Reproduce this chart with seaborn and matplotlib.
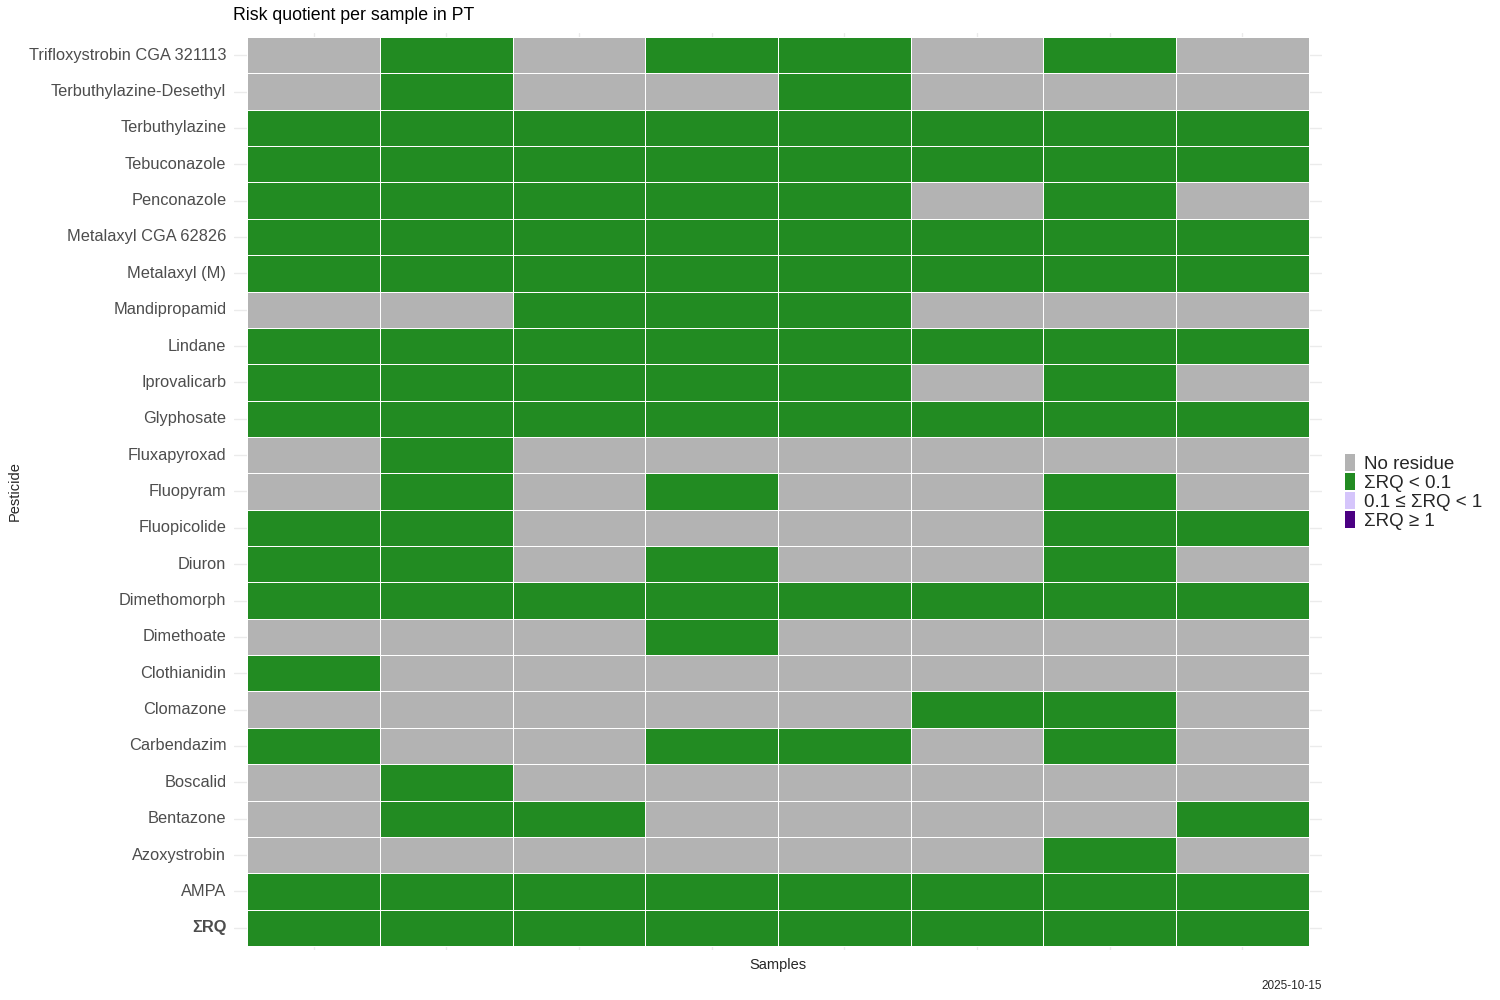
import numpy as np
import pandas as pd
import matplotlib
matplotlib.use("Agg")
import matplotlib.pyplot as plt
from matplotlib.colors import ListedColormap
from matplotlib.patches import Patch
import seaborn as sns

# Rows top to bottom, 8 samples each
# 0 = No residue, 1 = SRQ < 0.1, 2 = 0.1 <= SRQ < 1, 3 = SRQ >= 1
pesticides = [
    "Trifloxystrobin CGA 321113", "Terbuthylazine-Desethyl", "Terbuthylazine",
    "Tebuconazole", "Penconazole", "Metalaxyl CGA 62826", "Metalaxyl (M)",
    "Mandipropamid", "Lindane", "Iprovalicarb", "Glyphosate", "Fluxapyroxad",
    "Fluopyram", "Fluopicolide", "Diuron", "Dimethomorph", "Dimethoate",
    "Clothianidin", "Clomazone", "Carbendazim", "Boscalid", "Bentazone",
    "Azoxystrobin", "AMPA", "ΣRQ",
]
samples = ["S1", "S2", "S3", "S4", "S5", "S6", "S7", "S8"]
risk_class = [
    [0, 1, 0, 1, 1, 0, 1, 0],
    [0, 1, 0, 0, 1, 0, 0, 0],
    [1, 1, 1, 1, 1, 1, 1, 1],
    [1, 1, 1, 1, 1, 1, 1, 1],
    [1, 1, 1, 1, 1, 0, 1, 0],
    [1, 1, 1, 1, 1, 1, 1, 1],
    [1, 1, 1, 1, 1, 1, 1, 1],
    [0, 0, 1, 1, 1, 0, 0, 0],
    [1, 1, 1, 1, 1, 1, 1, 1],
    [1, 1, 1, 1, 1, 0, 1, 0],
    [1, 1, 1, 1, 1, 1, 1, 1],
    [0, 1, 0, 0, 0, 0, 0, 0],
    [0, 1, 0, 1, 0, 0, 1, 0],
    [1, 1, 0, 0, 0, 0, 1, 1],
    [1, 1, 0, 1, 0, 0, 1, 0],
    [1, 1, 1, 1, 1, 1, 1, 1],
    [0, 0, 0, 1, 0, 0, 0, 0],
    [1, 0, 0, 0, 0, 0, 0, 0],
    [0, 0, 0, 0, 0, 1, 1, 0],
    [1, 0, 0, 1, 1, 0, 1, 0],
    [0, 1, 0, 0, 0, 0, 0, 0],
    [0, 1, 1, 0, 0, 0, 0, 1],
    [0, 0, 0, 0, 0, 0, 1, 0],
    [1, 1, 1, 1, 1, 1, 1, 1],
    [1, 1, 1, 1, 1, 1, 1, 1],
]
class_labels = ["No residue", "ΣRQ < 0.1", "0.1 ≤ ΣRQ < 1", "ΣRQ ≥ 1"]
class_colors = ["#b3b3b3", "#228b22", "#d5c5fb", "#4b0082"]

df = pd.DataFrame(risk_class, index=pesticides, columns=samples)

sns.set_style("white")
plt.rcParams["font.family"] = ["Liberation Sans", "DejaVu Sans"]

fig = plt.figure(figsize=(15, 10), dpi=100)
ax = fig.add_axes([234 / 1500, 1 - 949.6 / 1000, 1088 / 1500, 916.2 / 1000])

sns.heatmap(df, ax=ax, cmap=ListedColormap(class_colors), vmin=-0.5, vmax=3.5,
            cbar=False, linewidths=0.6, linecolor="white")

# ggplot-like panel: light grid at category centres, small expansion
ax.set_xlim(-0.1, len(samples) + 0.1)
ax.set_ylim(len(pesticides) + 0.1, -0.1)
for i in range(len(samples)):
    ax.axvline(i + 0.5, color="#ebebeb", lw=1, zorder=0)
for j in range(len(pesticides)):
    ax.axhline(j + 0.5, color="#ebebeb", lw=1, zorder=0)
for s in ax.spines.values():
    s.set_visible(False)

ax.set_xticks([])
ax.set_yticks(np.arange(len(pesticides)) + 0.5)
ax.set_yticklabels(pesticides, fontsize=11.8, color="#4d4d4d")
ax.tick_params(axis="y", length=0, pad=5.5)
ax.get_yticklabels()[-1].set_fontweight("bold")
ax.set_xlabel("")
ax.set_ylabel("")

fig.text(233 / 1500, 1 - 16 / 1000, "Risk quotient per sample in PT",
         fontsize=12.8, ha="left", va="center", color="black")
fig.text(778 / 1500, 1 - 965 / 1000, "Samples", fontsize=10.5,
         ha="center", va="center")
fig.text(15 / 1500, 1 - 491 / 1000, "Pesticide", fontsize=10.5,
         ha="center", va="center", rotation=90)
fig.text(1322 / 1500, 1 - 986 / 1000, "2025-10-15", fontsize=8.5,
         ha="right", va="center")

handles = [Patch(facecolor=c, edgecolor="none", label=l)
           for c, l in zip(class_colors, class_labels)]
fig.legend(handles=handles, loc="center left",
           bbox_to_anchor=(1345 / 1500, 1 - 492 / 1000), frameon=False,
           fontsize=13.5, handlelength=0.55, handleheight=1.0,
           labelspacing=0.0, handletextpad=0.45, borderpad=0,
           borderaxespad=0)

fig.savefig("out.png", dpi=100)
